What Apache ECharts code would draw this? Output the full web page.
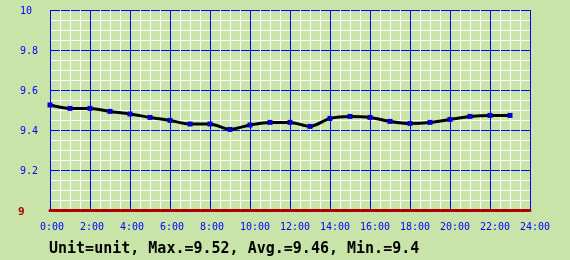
<!DOCTYPE html>
<html>
<head>
<meta charset="utf-8">
<script src="https://cdn.jsdelivr.net/npm/echarts@6/dist/echarts.min.js"></script>
<style>
html,body{margin:0;padding:0;background:#c8e4a8;}
#c{width:570px;height:260px;}
</style>
</head>
<body>
<div id="c"></div>
<script>
var hours = [0,1,2,3,4,5,6,7,8,9,10,11,12,13,14,15,16,17,18,19,20,21,22,23];
var values = [9.525,9.508,9.508,9.493,9.480,9.463,9.448,9.430,9.430,9.403,9.425,9.438,
              9.438,9.418,9.458,9.468,9.463,9.443,9.433,9.438,9.453,9.468,9.473,9.473];
var yTicks = [9, 9.2, 9.4, 9.6, 9.8, 10];
var xTicks = ['0:00','2:00','4:00','6:00','8:00','10:00','12:00','14:00','16:00','18:00','20:00','22:00','24:00'];
var titleText = 'Unit=unit, Max.=9.52, Avg.=9.46, Min.=9.4';

var chart = echarts.init(document.getElementById('c'), null, {renderer:'canvas'});
var data = hours.map(function(h,i){return [h, values[i]];});
var mono = 'DejaVu Sans Mono';
chart.setOption({
  backgroundColor: '#c8e4a8',
  animation: false,
  title: {
    text: titleText, left: 44, top: 237,
    textStyle: {fontFamily: mono, fontSize: 15, fontWeight: 'bold', color: '#000'}
  },
  grid: {left: 50, right: 40, top: 10, bottom: 50, containLabel: false},
  xAxis: {
    type: 'value', min: 0, max: 24, interval: 2,
    axisLine: {show: true, onZero: false, lineStyle: {color: '#aa0000', width: 3}},
    axisTick: {show: false},
    axisLabel: {
      color: '#0000ff', fontFamily: mono, fontSize: 10, margin: 12,
      align: 'left', padding: [0,0,0,-10],
      formatter: function(v){ return xTicks[v/2]; }
    },
    splitLine: {show: true, lineStyle: {color: '#0000ff', width: 1}},
    minorTick: {show: false, splitNumber: 4},
    minorSplitLine: {show: true, lineStyle: {color: '#ffffff', width: 1}}
  },
  yAxis: {
    type: 'value', min: 9, max: 10, interval: 0.2,
    axisLine: {show: false},
    axisTick: {show: false},
    axisLabel: {
      fontFamily: mono, fontSize: 10, margin: 30, align: 'left',
      formatter: function(v){
        var s = String(+v.toFixed(1));
        return v === 9 ? '{r|' + s + '}' : '{b|' + s + '}';
      },
      rich: {
        b: {color: '#0000ff', fontFamily: mono, fontSize: 10, padding: [3,0,0,0]},
        r: {color: '#aa0000', fontFamily: mono, fontSize: 11, fontWeight: 'bold', padding: [4,0,0,-2]}
      }
    },
    splitLine: {show: true, lineStyle: {color: '#0000ff', width: 1}},
    minorTick: {show: false, splitNumber: 4},
    minorSplitLine: {show: true, lineStyle: {color: '#ffffff', width: 1}}
  },
  series: [{
    type: 'line', data: data, smooth: 0.3,
    lineStyle: {color: '#000000', width: 3},
    symbol: 'rect', symbolSize: 5,
    itemStyle: {color: '#0000cc'},
    z: 5
  }]
});
</script>
</body>
</html>
